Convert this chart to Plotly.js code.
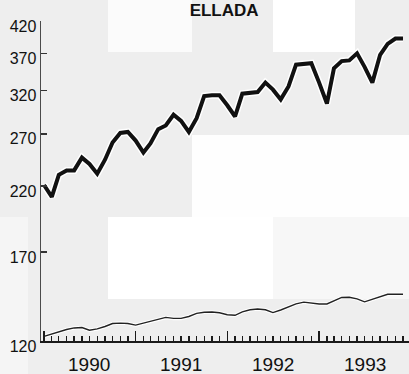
<!DOCTYPE html>
<html>
<head>
<meta charset="utf-8">
<script src="https://cdn.plot.ly/plotly-3.0.1.min.js"></script>
<style>
html,body{margin:0;padding:0;background:#eeeeee;}
#chart{width:409px;height:374px;}
</style>
</head>
<body>
<div id="chart"></div>
<script>
// ---- data ----
var years = [1990, 1991, 1992, 1993];
var yearLabels = ["1990", "1991", "1992", "1993"];
var yTicks = [120, 170, 220, 270, 320, 370, 420];
var titleText = "ELLADA";

// thick series, monthly Jan 1990 .. Dec 1993
var seriesThick = [
  221, 211, 230, 234, 234, 246, 240, 231, 244, 261, 271, 272,
  263, 251, 260, 275, 279, 291, 284, 272, 287, 313, 314, 314,
  302, 289, 316, 317, 318, 330, 321, 309, 325, 354, 355, 356,
  330, 304, 349, 359, 360, 370, 351, 330, 368, 384, 392, 392
];
// thin series, monthly Jan 1990 .. Dec 1993
var seriesThin = [
  122.2, 123.4, 124.6, 125.5, 126.3, 126.5, 125.2, 125.8, 127.0, 128.5, 128.7, 128.5,
  127.7, 128.7, 129.8, 130.7, 131.6, 131.1, 131.1, 132.1, 133.7, 134.3, 134.4, 134.0,
  133.0, 132.7, 134.5, 135.6, 136.0, 135.6, 134.1, 135.5, 137.3, 138.8, 139.7, 139.2,
  138.7, 138.7, 140.5, 142.3, 142.4, 141.5, 139.9, 141.2, 142.9, 144.1, 144.1, 144.1
];

// month dates (category axis)
var months = [];
years.forEach(function (y) {
  for (var m = 1; m <= 12; m++) months.push(y + "-" + (m < 10 ? "0" + m : m) + "-01");
});
var yearStarts = years.map(function (y) { return y + "-01-01"; });
var yearMids = years.map(function (y) { return y + "-07-01"; });

// ---- layout helpers (figure pixels -> paper coords) ----
var ML = 41, MR = 0, MT = 21, MB = 33, W = 409, H = 374;
var PW = W - ML - MR, PH = H - MT - MB;
function rect(x0, y0, x1, y1, color) {
  return {
    type: "rect", xref: "paper", yref: "paper", layer: "below",
    x0: (x0 - ML) / PW, x1: (x1 - ML) / PW,
    y0: (H - MB - y1) / PH, y1: (H - MB - y0) / PH,
    fillcolor: color, line: {width: 0}
  };
}
var shapes = [
  rect(108, -2, 192, 52, "#fbfbfb"),
  rect(273, -2, 355, 52, "#ffffff"),
  rect(192, 135, 411, 217, "#fefefe"),
  rect(-2, 217, 28, 376, "#f5f5f5"),
  rect(108, 217, 273, 299, "#ffffff"),
  rect(273, 217, 411, 299, "#f7f7f7")
];

var annotations = yearMids.map(function (d, i) {
  return {
    x: d, xref: "x", y: 0, yref: "paper", yanchor: "top", xanchor: "center",
    yshift: -11, showarrow: false, text: yearLabels[i],
    font: {family: "Liberation Sans, Arial, sans-serif", size: 19, color: "#111"}
  };
});

var traces = [
  {x: months, y: seriesThin, mode: "lines", line: {color: "#ffffff", width: 3.5}, hoverinfo: "skip"},
  {x: months, y: seriesThin, mode: "lines", line: {color: "#222222", width: 1.4}},
  {x: months, y: seriesThick, mode: "lines", line: {color: "#ffffff", width: 7}, hoverinfo: "skip"},
  {x: months, y: seriesThick, mode: "lines", line: {color: "#111111", width: 4}}
];

var layout = {
  width: W, height: H,
  margin: {l: ML, r: MR, t: MT, b: MB, pad: 0},
  paper_bgcolor: "#eeeeee",
  plot_bgcolor: "rgba(0,0,0,0)",
  showlegend: false,
  title: {
    text: titleText, x: 0.548, xanchor: "center", y: 0.99, yanchor: "top",
    font: {family: "Liberation Sans, Arial, sans-serif", size: 17, color: "#111", weight: "bold"}
  },
  shapes: shapes,
  annotations: annotations,
  xaxis: {
    type: "date",
    range: ["1989-12-20", "1993-12-25"],
    tickvals: yearStarts, ticktext: yearStarts.map(function () { return ""; }),
    ticks: "inside", ticklen: 10, tickwidth: 1.3, tickcolor: "#1a1a1a",
    showline: true, linecolor: "#1a1a1a", linewidth: 1.6,
    showgrid: false, zeroline: false,
    minor: {tick0: "1990-01-01", dtick: "M1", ticks: "inside", ticklen: 5, tickwidth: 1.3, tickcolor: "#1a1a1a", showgrid: false}
  },
  yaxis: {
    type: "log",
    range: [Math.log10(120), Math.log10(420)],
    tickvals: yTicks, ticktext: yTicks.map(String),
    ticks: "inside", ticklen: 6, tickwidth: 1.4, tickcolor: "#333",
    showline: true, linecolor: "#4a4a4a", linewidth: 1.4,
    showgrid: false, zeroline: false,
    tickfont: {family: "Liberation Sans, Arial, sans-serif", size: 16, color: "#111"},
    ticklabelshift: 5
  }
};

Plotly.newPlot("chart", traces, layout, {staticPlot: true, displayModeBar: false});
</script>
</body>
</html>
